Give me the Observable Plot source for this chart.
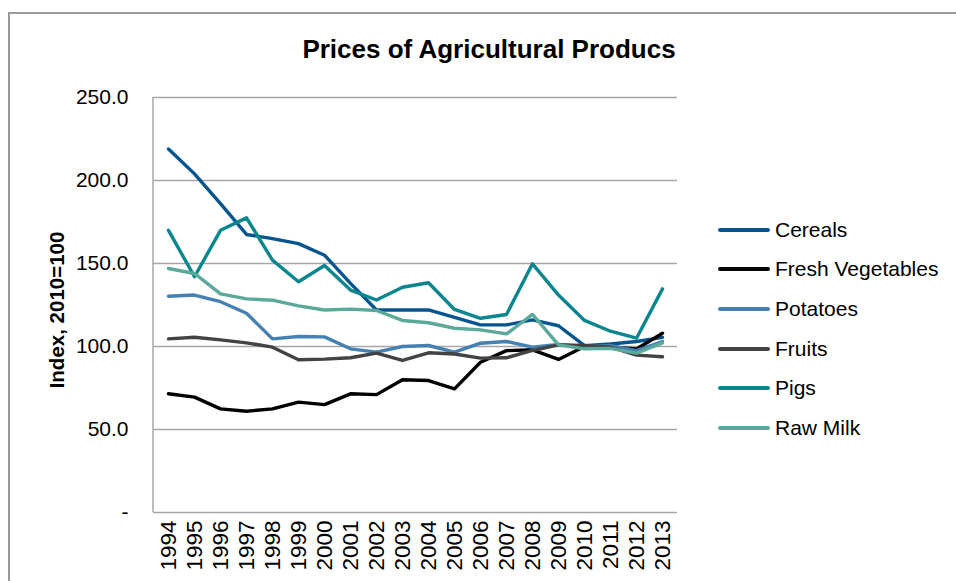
<!DOCTYPE html>
<html>
<head>
<meta charset="utf-8">
<script src="https://cdn.jsdelivr.net/npm/d3@7"></script>
<script src="https://cdn.jsdelivr.net/npm/@observablehq/plot@0.6"></script>
<style>
  html, body { margin: 0; padding: 0; background: #fff; overflow: hidden; }
  #wrap { position: relative; width: 956px; height: 581px; overflow: hidden; font-family: "Liberation Sans", Arial, sans-serif; }
  #border { position: absolute; left: 8px; top: 12px; width: 1000px; height: 700px; border: 2px solid #9a9a9a; box-sizing: border-box; }
  #title { position: absolute; left: 0; width: 978px; top: 34px; text-align: center; font-weight: bold; font-size: 26px; color: #000; }
  #chart { position: absolute; left: 0; top: 0; }
  #legend { position: absolute; left: 718px; top: 210px; }
  .item { display: flex; align-items: center; height: 39.6px; font-size: 21px; color: #000; }
  .swatch { width: 52px; height: 4px; border-radius: 2px; margin-right: 5px; }
</style>
</head>
<body>
<div id="wrap">
  <div id="border"></div>
  <div id="title">Prices of Agricultural Producs</div>
  <div id="chart"></div>
  <div id="legend"></div>
</div>
<script>
const years = ["1994","1995","1996","1997","1998","1999","2000","2001","2002","2003","2004","2005","2006","2007","2008","2009","2010","2011","2012","2013"];
const seriesNames = ["Cereals","Fresh Vegetables","Potatoes","Fruits","Pigs","Raw Milk"];
const seriesColors = ["#07558f","#000000","#4481b2","#434343","#0a878e","#5aa99b"];
const cereals = [219, 204, 186, 167.5, 165, 162, 155, 138, 122, 122, 122, 117.5, 113, 113, 116, 112.5, 100.5, 101.5, 103, 105.5];
const freshVegetables = [71.5, 69.5, 62.4, 61, 62.4, 66.5, 65, 71.5, 71, 80, 79.5, 74.5, 90.5, 97.5, 98, 92.2, 100, 99.8, 98.5, 108];
const potatoes = [130.3, 131, 127, 120, 104.6, 106, 105.8, 98.6, 96.6, 100, 100.6, 96.6, 102, 103, 99.6, 101.2, 100, 100.5, 97.5, 103];
const fruits = [104.6, 105.6, 104, 102.2, 99.6, 92, 92.4, 93.2, 96, 91.6, 96.2, 95.5, 93, 93.2, 97.6, 101, 100.6, 99.6, 94.8, 93.8];
const pigs = [170, 142, 170, 177.5, 152, 139, 148.8, 134, 128, 135.7, 138.4, 122.3, 117, 119.3, 149.8, 131, 115.7, 109.2, 105, 134.7];
const rawMilk = [147, 144, 131.7, 128.7, 127.9, 124.5, 122, 122.5, 121.7, 115.7, 114.3, 111, 110, 107.6, 119.3, 101, 98.6, 98.9, 96, 102.2];
const yTicks = [0, 50, 100, 150, 200, 250];
const yTitle = "Index, 2010=100";

const seriesValues = [cereals, freshVegetables, potatoes, fruits, pigs, rawMilk];
const data = [];
seriesNames.forEach((name, i) => {
  years.forEach((yr, j) => data.push({series: name, year: yr, value: seriesValues[i][j]}));
});

const plot = Plot.plot({
  width: 956,
  height: 581,
  marginLeft: 153,
  marginRight: 279,
  marginTop: 97,
  marginBottom: 69,
  style: {fontFamily: '"Liberation Sans", Arial, sans-serif', background: "transparent", color: "#000"},
  x: {type: "point", domain: years, padding: 0.5},
  y: {domain: [0, 250]},
  color: {domain: seriesNames, range: seriesColors},
  marks: [
    Plot.gridY(yTicks.filter(d => d > 0), {stroke: "#a6a6a6", strokeOpacity: 1, strokeWidth: 1.5}),
    Plot.ruleY([0], {stroke: "#a6a6a6", strokeWidth: 1.5}),
    Plot.axisY({ticks: yTicks, tickSize: 0, tickPadding: 25, fontSize: 21, label: null,
      tickFormat: d => d === 0 ? "-" : d.toFixed(1)}),
    Plot.axisX({tickSize: 0, tickPadding: 8, tickRotate: -90, fontSize: 22.5, label: null}),
    Plot.text([yTitle], {frameAnchor: "left", dx: -96, dy: 5, rotate: -90, textAnchor: "middle", fontSize: 20.5, fontWeight: "bold", fill: "#000"}),
    Plot.line(data, {x: "year", y: "value", z: "series", stroke: "series", strokeWidth: 3.4, strokeLinejoin: "round", strokeLinecap: "round"})
  ]
});
document.getElementById("chart").appendChild(plot);

// left axis line from the scales
const xr = plot.scale("x").range, yr = plot.scale("y").range;
d3.select(plot).insert("line", ":first-child")
  .attr("x1", xr[0]).attr("x2", xr[0])
  .attr("y1", yr[0]).attr("y2", yr[1])
  .attr("stroke", "#a6a6a6").attr("stroke-width", 1.5);

const legend = d3.select("#legend");
seriesNames.forEach((name, i) => {
  const it = legend.append("div").attr("class", "item");
  it.append("div").attr("class", "swatch").style("background", seriesColors[i]);
  it.append("span").text(name);
});
</script>
</body>
</html>
